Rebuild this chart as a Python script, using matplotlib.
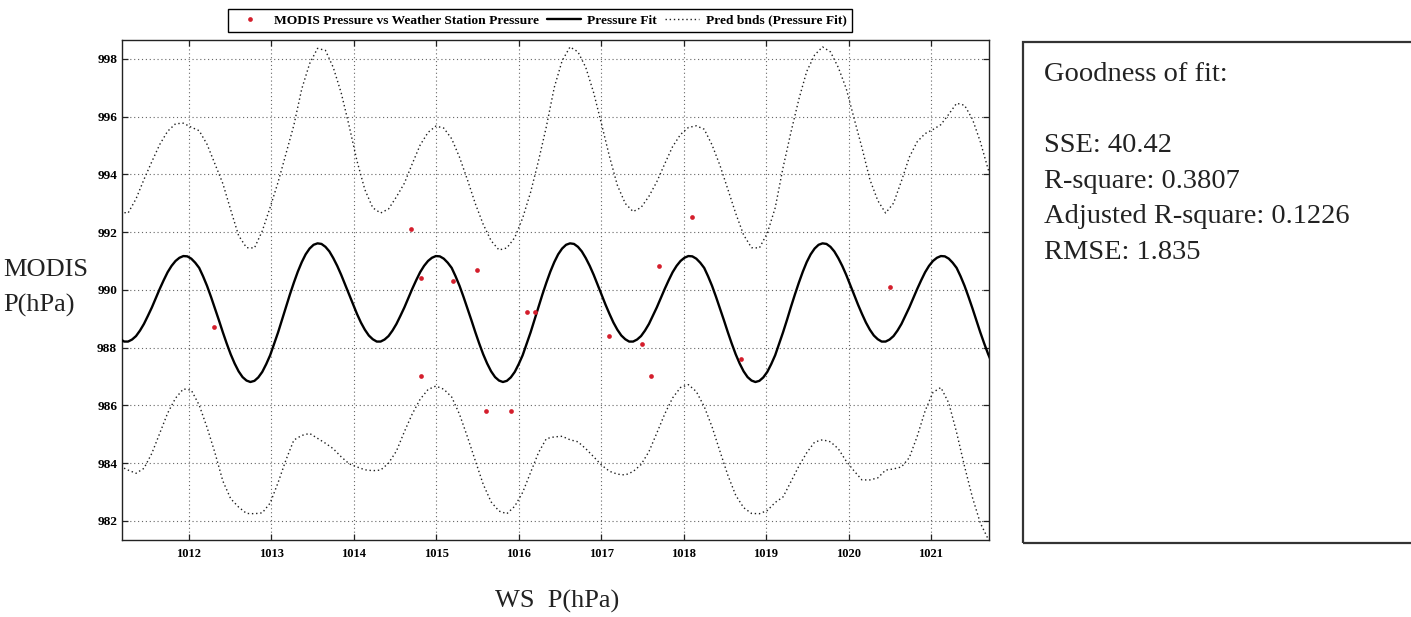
import matplotlib
matplotlib.use("Agg")
import matplotlib.pyplot as plt
from matplotlib.patches import Rectangle
from matplotlib.font_manager import FontProperties
import numpy as np

plt.rcParams['font.family'] = ['Liberation Serif', 'DejaVu Serif']

# ---------------- data ----------------
# observations: weather-station pressure vs MODIS pressure (hPa)
ws_pressure = [1012.31, 1014.70, 1014.81, 1014.81, 1015.20, 1015.50, 1015.60, 1015.91,
               1016.10, 1016.20, 1017.10, 1017.50, 1017.60, 1017.70, 1018.10, 1018.70,
               1020.50]
modis_pressure = [988.71, 992.09, 990.40, 987.02, 990.30, 990.69, 985.79, 985.79,
                  989.22, 989.22, 988.40, 988.12, 987.02, 990.82, 992.51, 987.62,
                  990.11]

# sample positions along the fitted curve (WS pressure, hPa)
fit_x = [
    1011.169, 1011.217, 1011.264, 1011.312, 1011.360, 1011.408, 1011.456, 1011.504, 1011.552, 1011.599,
    1011.647, 1011.695, 1011.743, 1011.791, 1011.839, 1011.886, 1011.934, 1011.982, 1012.030, 1012.078,
    1012.126, 1012.173, 1012.221, 1012.269, 1012.317, 1012.365, 1012.413, 1012.460, 1012.508, 1012.556,
    1012.604, 1012.652, 1012.700, 1012.747, 1012.796, 1012.843, 1012.891, 1012.939, 1012.987, 1013.035,
    1013.083, 1013.130, 1013.178, 1013.226, 1013.274, 1013.322, 1013.370, 1013.417, 1013.465, 1013.513,
    1013.561, 1013.609, 1013.657, 1013.705, 1013.752, 1013.800, 1013.848, 1013.896, 1013.944, 1013.992,
    1014.039, 1014.087, 1014.135, 1014.183, 1014.231, 1014.279, 1014.326, 1014.374, 1014.422, 1014.470,
    1014.518, 1014.566, 1014.614, 1014.661, 1014.709, 1014.757, 1014.805, 1014.853, 1014.901, 1014.948,
    1014.996, 1015.044, 1015.092, 1015.140, 1015.188, 1015.235, 1015.283, 1015.331, 1015.379, 1015.427,
    1015.475, 1015.522, 1015.570, 1015.618, 1015.666, 1015.714, 1015.762, 1015.809, 1015.857, 1015.905,
    1015.953, 1016.001, 1016.049, 1016.097, 1016.145, 1016.192, 1016.240, 1016.288, 1016.336, 1016.384,
    1016.432, 1016.479, 1016.527, 1016.575, 1016.623, 1016.671, 1016.719, 1016.766, 1016.814, 1016.862,
    1016.910, 1016.958, 1017.006, 1017.053, 1017.101, 1017.149, 1017.197, 1017.245, 1017.293, 1017.340,
    1017.388, 1017.436, 1017.484, 1017.532, 1017.580, 1017.627, 1017.675, 1017.723, 1017.771, 1017.819,
    1017.867, 1017.915, 1017.963, 1018.010, 1018.058, 1018.106, 1018.154, 1018.202, 1018.250, 1018.297,
    1018.345, 1018.393, 1018.441, 1018.489, 1018.537, 1018.584, 1018.632, 1018.680, 1018.728, 1018.776,
    1018.824, 1018.871, 1018.919, 1018.967, 1019.015, 1019.063, 1019.111, 1019.158, 1019.206, 1019.254,
    1019.302, 1019.350, 1019.398, 1019.446, 1019.493, 1019.541, 1019.589, 1019.637, 1019.685, 1019.733,
    1019.781, 1019.828, 1019.876, 1019.924, 1019.972, 1020.020, 1020.068, 1020.115, 1020.163, 1020.211,
    1020.259, 1020.307, 1020.355, 1020.402, 1020.450, 1020.498, 1020.546, 1020.594, 1020.642, 1020.689,
    1020.737, 1020.785, 1020.833, 1020.881, 1020.929, 1020.976, 1021.024, 1021.072, 1021.120, 1021.168,
    1021.216, 1021.263, 1021.311, 1021.359, 1021.407, 1021.455, 1021.503, 1021.550, 1021.598, 1021.646,
    1021.694, 1021.742, 1021.790]

# fitted MODIS pressure at fit_x (hPa)
fit_y = [
    988.29, 988.21, 988.21, 988.28, 988.40, 988.59, 988.82, 989.10, 989.39, 989.71,
    990.03, 990.33, 990.61, 990.83, 991.00, 991.11, 991.17, 991.16, 991.08, 990.94,
    990.76, 990.47, 990.14, 989.76, 989.36, 988.95, 988.53, 988.14, 987.77, 987.45,
    987.18, 986.98, 986.86, 986.81, 986.85, 986.97, 987.16, 987.43, 987.74, 988.13,
    988.53, 988.96, 989.41, 989.84, 990.25, 990.63, 990.96, 991.23, 991.43, 991.56,
    991.61, 991.59, 991.49, 991.33, 991.10, 990.83, 990.52, 990.18, 989.83, 989.49,
    989.17, 988.87, 988.62, 988.42,
    988.29, 988.21, 988.21, 988.28, 988.40, 988.59, 988.82, 989.10, 989.39, 989.71,
    990.03, 990.33, 990.61, 990.83, 991.00, 991.11, 991.17, 991.16, 991.08, 990.94,
    990.76, 990.47, 990.14, 989.76, 989.36, 988.95, 988.53, 988.14, 987.77, 987.45,
    987.18, 986.98, 986.86, 986.81, 986.85, 986.97, 987.16, 987.43, 987.74, 988.13,
    988.53, 988.96, 989.41, 989.84, 990.25, 990.63, 990.96, 991.23, 991.43, 991.56,
    991.61, 991.59, 991.49, 991.33, 991.10, 990.83, 990.52, 990.18, 989.83, 989.49,
    989.17, 988.87, 988.62, 988.42,
    988.29, 988.21, 988.21, 988.28, 988.40, 988.59, 988.82, 989.10, 989.39, 989.71,
    990.03, 990.33, 990.61, 990.83, 991.00, 991.11, 991.17, 991.16, 991.08, 990.94,
    990.76, 990.47, 990.14, 989.76, 989.36, 988.95, 988.53, 988.14, 987.77, 987.45,
    987.18, 986.98, 986.86, 986.81, 986.85, 986.97, 987.16, 987.43, 987.74, 988.13,
    988.53, 988.96, 989.41, 989.84, 990.25, 990.63, 990.96, 991.23, 991.43, 991.56,
    991.61, 991.59, 991.49, 991.33, 991.10, 990.83, 990.52, 990.18, 989.83, 989.49,
    989.17, 988.87, 988.62, 988.42, 988.29, 988.21, 988.21, 988.28, 988.40, 988.59,
    988.82, 989.10, 989.39, 989.71, 990.03, 990.33, 990.61, 990.83, 991.00, 991.11,
    991.17, 991.16, 991.08, 990.94, 990.76, 990.47, 990.14, 989.76, 989.36, 988.95,
    988.53, 988.14, 987.77, 987.45, 987.18]

# half width of the prediction bounds, at every second fit_x sample
pred_halfwidth = [4.40, 4.45, 4.75, 5.00, 5.05, 5.00, 4.88, 4.75, 4.60, 4.55,
                  4.75, 4.90, 5.00, 5.15, 5.00, 4.70, 4.60, 4.60, 4.88, 5.12,
                  5.20, 5.30, 5.45, 6.00, 6.40,
                  6.75, 6.80, 6.60, 6.30, 5.85, 5.30, 4.85, 4.55, 4.45, 4.40,
                  4.40, 4.30, 4.33, 4.40, 4.45, 4.50, 4.52, 4.47, 4.45, 4.45,
                  4.45, 4.50, 4.52, 4.52, 4.60, 4.65, 4.75, 4.85, 5.05, 5.40,
                  6.05, 6.50,
                  6.80, 6.75, 6.60, 6.30, 5.90, 5.45, 5.00, 4.70, 4.50, 4.45,
                  4.42, 4.35, 4.33, 4.35, 4.38, 4.45, 4.60, 4.80, 4.88, 4.95,
                  4.95, 4.88, 4.72, 4.60, 4.60, 4.80, 5.10, 5.70, 6.05, 6.35,
                  6.60, 6.70,
                  6.80, 6.75, 6.60, 6.45, 6.10, 5.75, 5.20, 4.80, 4.45, 4.60,
                  4.95, 5.20, 5.10, 4.80, 4.55, 4.55, 5.00, 5.70, 6.25, 6.55,
                  6.60, 6.40, 6.30]

x_ticks = [1012, 1013, 1014, 1015, 1016, 1017, 1018, 1019, 1020, 1021]
y_ticks = [982, 984, 986, 988, 990, 992, 994, 996, 998]

legend_labels = ['MODIS Pressure vs Weather Station Pressure', 'Pressure Fit',
                 'Pred bnds (Pressure Fit)']
stats_lines = ['Goodness of fit:', 'SSE: 40.42', 'R-square: 0.3807',
               'Adjusted R-square: 0.1226', 'RMSE: 1.835']

# ---------------- figure ----------------
W, H = 1411, 617
fig = plt.figure(figsize=(W / 100, H / 100), dpi=100)
fig.patch.set_facecolor('white')

ax = fig.add_axes([122 / W, 1 - 540 / H, (988.7 - 122) / W, (540 - 40) / H])

fx = np.array(fit_x)
fy = np.array(fit_y)
bx = fx[::2]
bc = fy[::2]
hw = np.array(pred_halfwidth)

dot_style = dict(linestyle=(0, (1, 2)), color='#1e1e1e', lw=1.0)
ax.plot(bx, bc + hw, **dot_style, zorder=3)
bnd_line, = ax.plot(bx, bc - hw, **dot_style, zorder=3)
fit_line, = ax.plot(fx, fy, color='black', lw=1.7, zorder=4,
                    solid_joinstyle='round', solid_capstyle='round')
pts, = ax.plot(ws_pressure, modis_pressure, linestyle='none', marker='o', ms=3.4,
               color='#d41e2c', mec='none', zorder=5)

ax.set_xlim(1011.19, 1021.70)
ax.set_ylim(981.34, 998.65)
ax.set_xticks(x_ticks)
ax.set_yticks(y_ticks)
ax.grid(True, linestyle=(0, (1, 2.5)), color='#666666', lw=0.8, zorder=1)
ax.set_axisbelow(True)

ax.tick_params(axis='both', direction='in', length=4, width=0.9, top=True, right=True,
               colors='#222222')
ax.tick_params(axis='x', pad=5.5, labelsize=9)
ax.tick_params(axis='y', pad=3.5, labelsize=9.5)
for lab in ax.get_xticklabels() + ax.get_yticklabels():
    lab.set_fontweight('bold')
    lab.set_color('black')
for sp in ax.spines.values():
    sp.set_color('#222222')
    sp.set_linewidth(1.0)

# legend above the axes
leg = fig.legend([pts, fit_line, bnd_line], legend_labels, loc='center',
                 bbox_to_anchor=(540 / W, 1 - 20.5 / H), ncol=3, frameon=True,
                 fancybox=False, edgecolor='black', framealpha=1,
                 prop=FontProperties(family='Liberation Serif', weight='bold', size=9.7),
                 handlelength=2.5, handletextpad=0.5, columnspacing=0.6,
                 borderpad=0.4, borderaxespad=0, numpoints=1)
leg.get_frame().set_linewidth(1.0)

# axis labels
fig.text(3 / W, 1 - 276 / H, 'MODIS', fontsize=19, ha='left', va='baseline', color='#222')
fig.text(3 / W, 1 - 312 / H, 'P(hPa)', fontsize=19, ha='left', va='baseline', color='#222')
fig.text(557 / W, 1 - 608 / H, 'WS  P(hPa)', fontsize=19, ha='center', va='baseline',
         color='#222')

# goodness-of-fit box
rect = Rectangle((1023 / W, 1 - 543 / H), (1430 - 1023) / W, (543 - 41.7) / H,
                 transform=fig.transFigure, fill=False, edgecolor='#333333', lw=1.6)
fig.add_artist(rect)
baselines = [80.7, 151.7, 187.5, 223.3, 259.0]
for txt, yb in zip(stats_lines, baselines):
    fig.text(1044 / W, 1 - yb / H, txt, fontsize=20.5, ha='left', va='baseline', color='#222')

fig.savefig('out.png', dpi=100, facecolor='white')
